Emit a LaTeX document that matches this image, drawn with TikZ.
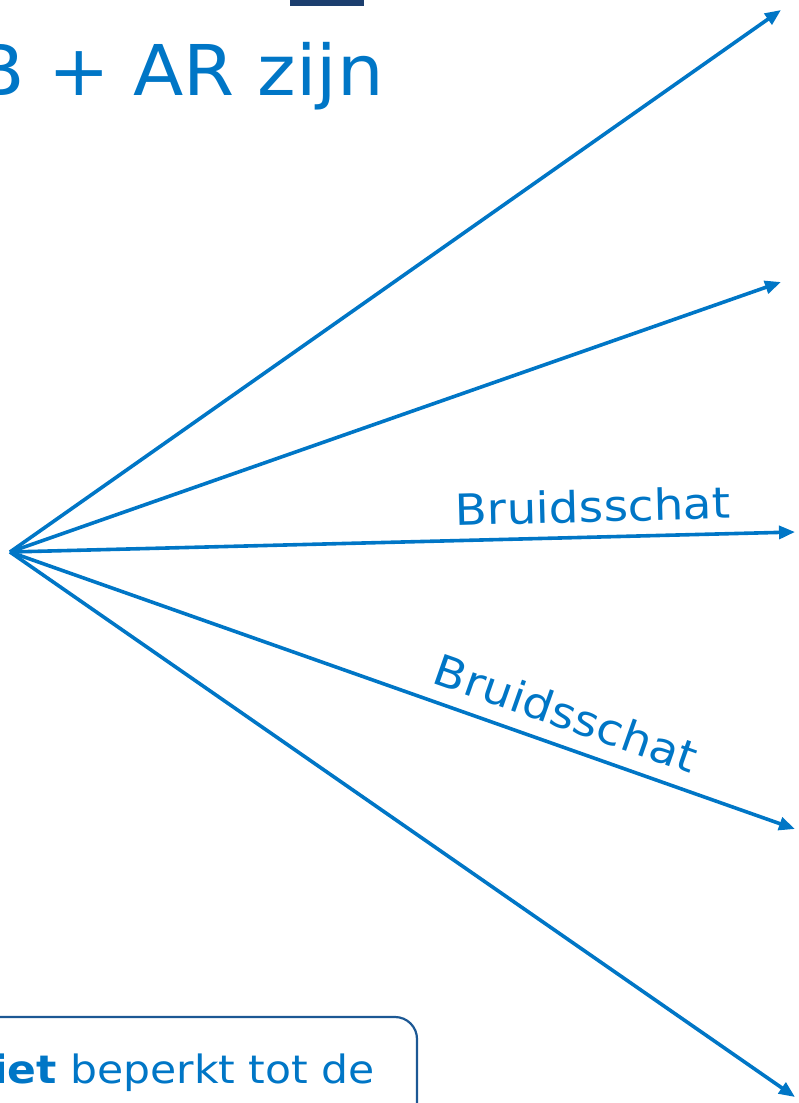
\documentclass[tikz,border=0pt]{standalone}
\usepackage{fontspec}
\setmainfont{DejaVu Sans}[FakeStretch=1.09]
\newfontfamily\titlefont{DejaVu Sans}[FakeStretch=1.05]
\usetikzlibrary{arrows.meta}
\definecolor{mainblue}{RGB}{0,118,198}
\definecolor{boxblue}{RGB}{28,88,148}
\definecolor{navy}{RGB}{28,62,110}
\tikzset{
  conn/.style={draw=mainblue, line width=3.6pt, -{Triangle[length=16pt,width=13pt]}},
  lbl/.style={text=mainblue, inner sep=0pt, font=\fontsize{43}{50}\selectfont},
}
\begin{document}
\begin{tikzpicture}[x=1pt,y=-1pt]
\useasboundingbox (0,0) rectangle (798,1103);
\clip (0,0) rectangle (798,1103);
\fill[navy] (290,-5) rectangle (364,6);
\node[anchor=base east, inner sep=0pt, text=mainblue, font=\titlefont\fontsize{70}{80}\selectfont] (title) at (384,95) {B + AR zijn};
\coordinate (o) at (10,552);
\coordinate (e1) at (781,10);
\coordinate (e2) at (781,282);
\coordinate (e3) at (795,532);
\coordinate (e4) at (795,829);
\coordinate (e5) at (795,1097);
\draw[conn] (o) -- (e1);
\draw[conn] (o) -- (e2);
\draw[conn] (o) -- (e3);
\draw[conn] (o) -- (e4);
\draw[conn] (o) -- (e5);
\node[lbl, rotate=1.46] (l3) at (593,506) {Bruidsschat};
\node[lbl, rotate=-19.4] (l4) at (566,713) {Bruidsschat};
\draw[draw=boxblue, line width=2.2pt, rounded corners=22pt] (-40,1017) rectangle (417,1160);
\node[anchor=base east, inner sep=0pt, text=mainblue, font=\fontsize{39}{46}\selectfont] (note) at (375,1083) {\textbf{niet} beperkt tot de};
\end{tikzpicture}
\end{document}
